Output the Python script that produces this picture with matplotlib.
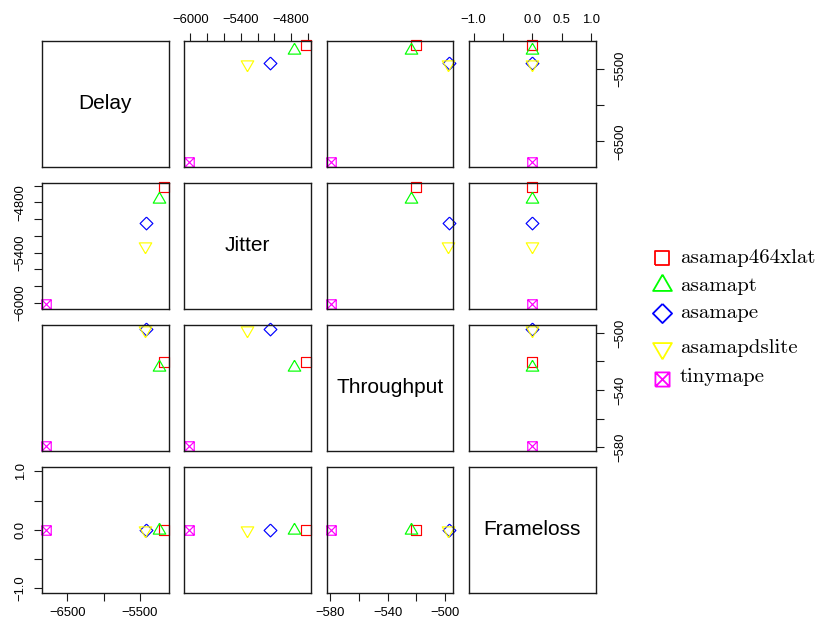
import matplotlib
matplotlib.use("Agg")
import matplotlib.pyplot as plt
from matplotlib.path import Path

plt.rcParams["font.family"] = ["Liberation Sans", "DejaVu Sans"]

# One value per mapping scheme and metric
schemes = ["asamap464xlat", "asamapt", "asamape", "asamapdslite", "tinymape"]
delay = [-5170, -5235, -5420, -5430, -6790]
jitter = [-4620, -4760, -5050, -5325, -6020]
throughput = [-520.5, -524.0, -497.5, -498.0, -579.5]
frameloss = [0, 0, 0, 0, 0]

var_names = ["Delay", "Jitter", "Throughput", "Frameloss"]

# ticks per variable, blank labels where R dropped overlapping ones
M = "\u2212"
delay_ticks = [-6500, -6000, -5500]
delay_labels = [M + "6500", "", M + "5500"]
jitter_ticks = [-6000, -5800, -5600, -5400, -5200, -5000, -4800, -4600]
jitter_labels = [M + "6000", "", "", M + "5400", "", "", M + "4800", ""]
throughput_ticks = [-580, -560, -540, -520, -500]
throughput_labels = [M + "580", "", M + "540", "", M + "500"]
frameloss_ticks = [-1.0, -0.5, 0.0, 0.5, 1.0]
frameloss_labels_x = [M + "1.0", "", "0.0", "0.5", "1.0"]
frameloss_labels_y = [M + "1.0", "", "0.0", "", "1.0"]

colors = ["#FF0000", "#00FF00", "#0000FF", "#FFFF00", "#FF00FF"]

# R pch 0, 2, 5, 6, 7
square = Path([(-1, -1), (1, -1), (1, 1), (-1, 1), (-1, -1)])
tri_up = Path([(0, 1), (0.866, -0.5), (-0.866, -0.5), (0, 1)])
tri_down = Path([(0, -1), (0.866, 0.5), (-0.866, 0.5), (0, -1)])
diamond = Path([(0, 1), (1, 0), (0, -1), (-1, 0), (0, 1)])
boxed_x = Path(
    [(-1, -1), (1, -1), (1, 1), (-1, 1), (-1, -1), (-1, -1), (1, 1), (-1, 1), (1, -1)],
    [Path.MOVETO, Path.LINETO, Path.LINETO, Path.LINETO, Path.LINETO,
     Path.MOVETO, Path.LINETO, Path.MOVETO, Path.LINETO],
)
markers = [square, tri_up, diamond, tri_down, boxed_x]
marker_sizes = [6.8, 10.4, 9.2, 10.4, 6.8]

columns = [delay, jitter, throughput, frameloss]
ticks = [delay_ticks, jitter_ticks, throughput_ticks, frameloss_ticks]
xlabels = [delay_labels, jitter_labels, throughput_labels, frameloss_labels_x]
ylabels = [delay_labels, jitter_labels, throughput_labels, frameloss_labels_y]


def padded_range(values):
    lo, hi = min(values), max(values)
    if lo == hi:
        lo, hi = lo - 1, hi + 1
    pad = 0.04 * (hi - lo)
    return lo - pad, hi + pad


lims = [padded_range(v) for v in columns]

W, H = 820, 622
fig = plt.figure(figsize=(W / 100, H / 100), dpi=100)


def px_axes(left, top, w, h):
    return fig.add_axes([left / W, 1 - (top + h) / H, w / W, h / H])


left0, top0, step_x, step_y, pw, ph = 41.7, 40.7, 142.4, 142.0, 126.8, 126.3

for i in range(4):
    for j in range(4):
        ax = px_axes(left0 + j * step_x, top0 + i * step_y, pw, ph)
        ax.set_xlim(lims[j])
        ax.set_ylim(lims[i])
        for s in ax.spines.values():
            s.set_linewidth(1.0)
            s.set_color("#1a1a1a")
        ax.tick_params(direction="out", length=5.8, width=0.8,
                       labelsize=9.4, color="#1a1a1a")
        ax.set_xticks([])
        ax.set_yticks([])

        if i == j:
            ax.text(0.5, 0.5, var_names[i], transform=ax.transAxes,
                    ha="center", va="center", fontsize=15)
        else:
            for k in range(len(schemes)):
                ax.plot(columns[j][k], columns[i][k], linestyle="none",
                        marker=markers[k], markersize=marker_sizes[k],
                        markerfacecolor="none", markeredgecolor=colors[k],
                        markeredgewidth=0.85, clip_on=False)

        # alternate outer axes as pairs() does
        if i == 0 and j % 2 == 1:
            ax.xaxis.tick_top()
            ax.set_xticks(ticks[j], xlabels[j])
            ax.tick_params(axis="x", pad=5)
        if i == 3 and j % 2 == 0:
            ax.set_xticks(ticks[j], xlabels[j])
            ax.tick_params(axis="x", pad=4)
        if j == 0 and i % 2 == 1:
            ax.set_yticks(ticks[i], ylabels[i], rotation=90, va="center")
            ax.tick_params(axis="y", pad=5)
        if j == 3 and i % 2 == 0:
            ax.yaxis.tick_right()
            ax.set_yticks(ticks[i], ylabels[i], rotation=90, va="center")
            ax.tick_params(axis="y", pad=8)

# legend drawn in pixel space on the right
lax = fig.add_axes([0, 0, 1, 1])
lax.set_xlim(0, W)
lax.set_ylim(H, 0)
lax.axis("off")
mark_y = [258.3, 285.0, 313.3, 348.3, 379.0]
text_y = [263.3, 290.7, 318.3, 352.7, 381.7]
for k, name in enumerate(schemes):
    lax.plot(662, mark_y[k], linestyle="none", marker=markers[k],
             markersize=marker_sizes[k] * 1.5, markerfacecolor="none",
             markeredgecolor=colors[k], markeredgewidth=1.3)
    lax.text(680, text_y[k], name, va="baseline", ha="left",
             family="cmr10", fontsize=15)

fig.savefig("out.png", dpi=100)
